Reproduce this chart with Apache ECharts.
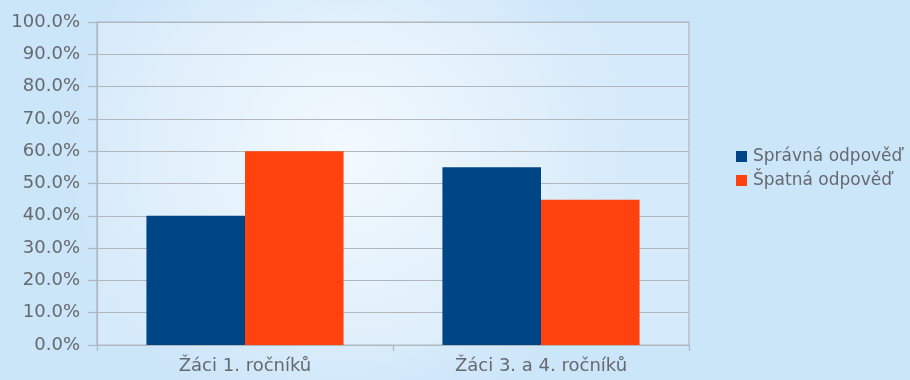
<!DOCTYPE html>
<html>
<head>
<meta charset="utf-8">
<script src="https://cdn.jsdelivr.net/npm/echarts@6/dist/echarts.min.js"></script>
<style>
  html, body { margin: 0; padding: 0; }
  #chart { width: 910px; height: 380px; }
</style>
</head>
<body>
<div id="chart"></div>
<script>
// Categories and series values (percent)
const categories = ['Žáci 1. ročníků', 'Žáci 3. a 4. ročníků'];
const seriesNames = ['Správná odpověď', 'Špatná odpověď'];
const correctValues = [40, 55];
const wrongValues = [60, 45];
const yTickMax = 100;
const yTickStep = 10;

const textColor = '#66696d';
const lineColor = '#b1b7bd';
const fontFamily = '"DejaVu Sans", sans-serif';

const chart = echarts.init(document.getElementById('chart'), null, { renderer: 'canvas' });

chart.setOption({
  animation: false,
  backgroundColor: {
    type: 'radial', x: 0.38, y: 0.4, r: 0.75,
    colorStops: [
      { offset: 0, color: '#f0f8fe' },
      { offset: 0.55, color: '#ddeefb' },
      { offset: 1, color: '#cbe5f9' }
    ]
  },
  legend: {
    orient: 'vertical',
    left: 731,
    top: 143,
    itemWidth: 11,
    itemHeight: 11,
    itemGap: 7,
    icon: 'rect',
    textStyle: { color: textColor, fontSize: 17, fontFamily: fontFamily, padding: [0, 0, 0, 1] },
    data: seriesNames
  },
  grid: {
    left: 97,
    right: 221,
    top: 22,
    bottom: 35,
    show: true,
    backgroundColor: 'rgba(255,255,255,0.2)',
    borderColor: lineColor,
    borderWidth: 1.2
  },
  xAxis: {
    type: 'category',
    data: categories,
    axisLine: { lineStyle: { color: lineColor, width: 1.2 } },
    axisTick: { show: true, length: 6, lineStyle: { color: lineColor, width: 1.2 } },
    axisLabel: { color: textColor, fontSize: 18, fontFamily: fontFamily, margin: 12 }
  },
  yAxis: {
    type: 'value',
    min: 0,
    max: yTickMax,
    interval: yTickStep,
    axisLine: { show: true, lineStyle: { color: lineColor, width: 1.2 } },
    axisTick: { show: true, length: 9, lineStyle: { color: lineColor, width: 1.2 } },
    splitLine: { lineStyle: { color: lineColor, width: 1.2 } },
    axisLabel: {
      color: textColor, fontSize: 18, fontFamily: fontFamily, margin: 17,
      formatter: v => v.toFixed(1) + '%'
    }
  },
  series: [
    {
      name: seriesNames[0],
      type: 'bar',
      data: correctValues,
      barWidth: '33.3%',
      barGap: '0%',
      itemStyle: { color: '#004586' }
    },
    {
      name: seriesNames[1],
      type: 'bar',
      data: wrongValues,
      barWidth: '33.3%',
      barGap: '0%',
      itemStyle: { color: '#ff420e' }
    }
  ]
});
</script>
</body>
</html>
